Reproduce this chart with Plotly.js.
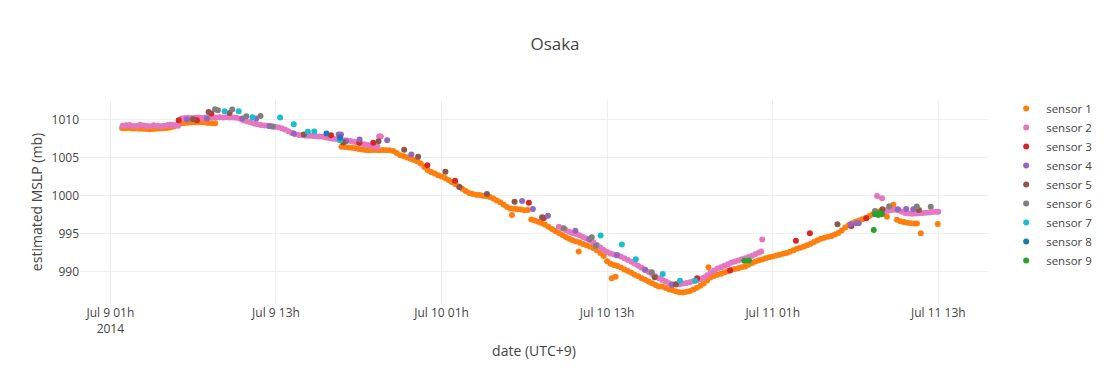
<!DOCTYPE html>
<html>
<head>
<meta charset="utf-8">
<script src="https://cdn.plot.ly/plotly-3.0.1.min.js"></script>
<style>html,body{margin:0;padding:0;background:#fff;}#chart{width:1110px;height:384px;}</style>
</head>
<body>
<div id="chart"></div>
<script>
// Times are hours after 2014-07-09 01:00 (UTC+9); values are estimated MSLP in mb.
const BASE_TIME = Date.UTC(2014, 6, 9, 1, 0, 0);

const sensorNames = ['sensor 1','sensor 2','sensor 3','sensor 4','sensor 5','sensor 6','sensor 7','sensor 8','sensor 9'];
const sensorColors = ['#ff7f0e','#e377c2','#d62728','#9467bd','#8c564b','#7f7f7f','#17becf','#1f77b4','#2ca02c'];

// sensor 1
const s1a_h = [0.85,1.1,1.35,1.6,1.85,2.1,2.35,2.6,2.85,3.1,3.35,3.6,3.85,4.1,4.35,4.6,4.85,5.1,5.35,5.6,5.85,6.1,6.35,6.6,6.85,7.1,7.35,7.6];
const s1a_v = [1008.90,1008.88,1008.92,1008.85,1008.84,1008.82,1008.80,1008.78,1008.75,1008.78,1008.80,1008.83,1008.86,1008.90,1008.96,1009.10,1009.35,1009.50,1009.56,1009.60,1009.62,1009.66,1009.68,1009.66,1009.62,1009.58,1009.55,1009.52];
const s1b_h = [16.75,17,17.25,17.5,17.75,18,18.25,18.5,18.75,19,19.25,19.5,19.75,20,20.25,20.5,20.75,21,21.25,21.5,21.75,22,22.25,22.5,22.75,23,23.25,23.5,23.75,24,24.25,24.5,24.75,25,25.25,25.5,25.75,26,26.25,26.5,26.75,27,27.25,27.5,27.75,28,28.25,28.5,28.75,29,29.25,29.5,29.75,30,30.25,30.5,30.75,31,31.25,31.5,31.75,32,32.25,32.5,32.75,33,33.25,33.5,33.75,34,34.25,34.5,34.75,35,35.25,35.5,35.75,36,36.25,36.5,36.75,37,37.25,37.5,37.75,38,38.25,38.5,38.75,39,39.25,39.5,39.75,40,40.25,40.5,40.75,41,41.25,41.5,41.75,42,42.25,42.5,42.75,43,43.25,43.5,43.75,44,44.25,44.5,44.75,45,45.25,45.5,45.75,46,46.25,46.5,46.75,47,47.25,47.5,47.75,48,48.25,48.5,48.75,49,49.25,49.5,49.75,50,50.25,50.5,50.75,51,51.25,51.5,51.75,52,52.25,52.5,52.75,53,53.25,53.5,53.75,54,54.25,54.5,54.75,55,55.25,55.5,55.75,56,56.25,56.5,56.75];
const s1b_v = [1006.43,1006.40,1006.35,1006.32,1006.25,1006.15,1006.08,1006.02,1005.99,1006.00,1006.02,1005.98,1006.00,1005.97,1005.98,1005.88,1005.62,1005.33,1005.18,1005.02,1004.86,1004.70,1004.50,1004.22,1003.75,1003.35,1003.10,1002.90,1002.68,1002.50,1002.30,1002.06,1001.80,1001.52,1001.20,1000.90,1000.60,1000.33,1000.20,1000.10,1000.06,999.98,999.90,999.82,999.60,999.35,999.12,998.80,998.50,998.30,998.25,998.20,998.16,998.05,998.10,996.85,996.72,996.53,996.38,996.15,995.90,995.58,995.32,995.06,994.80,994.55,994.30,994.10,993.95,993.80,993.62,993.45,993.28,993.10,992.78,992.42,992.04,991.35,991.00,990.85,990.70,990.50,990.25,990.05,989.82,989.55,989.35,989.10,988.90,988.68,988.45,988.20,988.00,988.00,987.80,987.62,987.50,987.35,987.26,987.22,987.30,987.42,987.60,987.85,988.10,988.40,988.80,989.22,989.40,989.55,989.68,989.85,990.05,990.20,990.32,990.42,990.55,990.66,990.88,991.10,991.32,991.47,991.58,991.72,991.85,991.95,992.08,992.20,992.32,992.44,992.60,992.80,992.98,993.12,993.28,993.45,993.65,993.88,994.10,994.30,994.45,994.58,994.68,994.85,995.05,995.40,995.78,996.10,996.35,996.56,996.72,996.88,997.05,997.30,997.55,997.80,997.92,997.98,998.05,998.50,998.80];
const s1c_h = [57,57.25,57.5,57.75,58,58.25,58.45,29.10,33.94,36.33,36.61,43.34,56.28,58.73,59.96];
const s1c_v = [996.80,996.62,996.50,996.40,996.36,996.33,996.32,997.43,992.61,989.11,989.28,990.55,997.20,995.03,996.25];

// sensor 2
const s2a_h = [0.9,1.15,1.4,1.65,1.9,2.15,2.4,2.65,2.9,3.15,3.4,3.65,3.9,4.15,4.4,4.65,4.9,5.15,5.4,5.65,5.9,6.15,6.4,6.65,6.9,7.15,7.4,7.65,7.9,8.15,8.4,8.65,8.9,9.15,9.4,9.65,9.9,10.15,10.4,10.65,10.9,11.15,11.4,11.65,11.9,12.15,12.4,12.65,12.9,13.15,13.4,13.65,13.9,14.15,14.4,14.65,14.9,15.15,15.4,15.65,15.9,16.15,16.4,16.65,16.9,17.15,17.4,17.65,17.9,18.15,18.4,18.65,18.9,19.15,19.35,19.48,19.6];
const s2a_v = [1009.22,1009.26,1009.30,1009.18,1009.16,1009.34,1009.24,1009.18,1009.14,1009.26,1009.22,1009.14,1009.20,1009.30,1009.34,1009.28,1009.22,1010.15,1010.22,1010.25,1010.22,1010.26,1010.28,1010.24,1010.28,1010.30,1010.32,1010.30,1010.33,1010.30,1010.34,1010.30,1010.28,1010.25,1010.12,1009.90,1009.78,1009.65,1009.50,1009.40,1009.30,1009.24,1009.20,1009.15,1009.08,1009.02,1008.88,1008.70,1008.48,1008.25,1008.08,1007.98,1007.95,1007.90,1007.88,1007.84,1007.82,1007.78,1007.74,1007.64,1007.56,1007.50,1007.42,1007.34,1007.28,1007.25,1007.20,1007.10,1007.00,1006.88,1006.78,1006.68,1006.58,1006.50,1006.42,1007.83,1007.80];
const s2b_h = [32.5,32.75,33,33.25,33.5,33.75,34,34.25,34.5,34.75,35,35.25,35.5,35.75,36,36.25,36.5,36.75,37,37.25,37.5,37.75,38,38.25,38.5,38.75,39,39.25,39.5,39.75,40,40.25,40.5,40.75,41,41.25,41.5,41.75,42,42.25,42.5,42.75,43,43.25,43.5,43.75,44,44.25,44.5,44.75,45,45.25,45.5,45.75,46,46.25,46.5,46.75,47,47.17,47.24];
const s2b_v = [995.88,995.66,995.45,995.24,995.05,994.92,994.76,994.55,994.33,994.12,993.85,993.50,993.15,992.83,992.55,992.35,992.22,992.14,991.95,991.72,991.50,991.27,991.02,990.75,990.48,990.22,989.92,989.64,989.36,989.10,988.88,988.67,988.45,988.32,988.28,988.30,988.40,988.48,988.58,988.70,988.82,988.98,989.20,989.48,989.86,990.12,990.38,990.56,990.74,990.95,991.16,991.30,991.45,991.60,991.74,991.90,992.06,992.28,992.48,992.63,994.21];
const s2c_h = [55.56,55.92,56.1,56.35,56.6,56.85,57.1,57.35,57.6,57.85,58.1,58.35,58.6,58.85,59.1,59.35,59.6,59.85,60.0];
const s2c_v = [999.93,999.63,997.88,997.98,998.10,998.12,998.05,997.85,997.70,997.62,997.60,997.62,997.66,997.70,997.72,997.78,997.84,997.86,997.85];

// sensor 3
const s3_h = [4.95,6.27,7.32,15.99,18.04,19.05,22.97,24.98,30.33,31.41,42.52,44.91,49.68,50.69,53.70,54.78];
const s3_v = [1009.93,1009.93,1010.82,1007.96,1006.95,1006.95,1004.01,1001.95,999.05,997.04,989.11,990.11,994.05,995.03,995.99,997.00];
// sensor 4
const s4_h = [5.55,7.0,9.56,10.57,11.53,13.29,16.54,16.71,17.08,18.06,20.06,21.81,29.84,30.62,31.71,33.70,34.71,36.71,38.75,40.69,53.65,54.06,54.23,57.07,57.67,58.18];
const s4_v = [1010.03,1010.16,1010.16,1010.16,1009.18,1008.18,1008.05,1008.05,1007.17,1007.39,1007.30,1005.42,999.28,998.22,997.33,995.36,994.24,992.14,990.20,988.22,996.21,996.34,996.34,998.18,998.22,998.18];
// sensor 5
const s5_h = [5.99,7.12,8.64,14.02,16.88,19.43,21.29,22.30,24.28,25.30,27.29,29.29,31.29,39.44,40.99,52.69,55.95,58.59];
const s5_v = [1010.07,1011.03,1010.89,1008.05,1007.00,1007.17,1006.05,1005.11,1003.13,1001.14,1000.20,999.18,997.14,989.24,988.29,996.21,998.18,998.09];
// sensor 6
const s6_h = [7.59,7.79,8.83,9.85,10.88,11.77,32.86,34.88,35.19,39.24,55.41,56.44,58.44,59.45];
const s6_v = [1011.38,1011.25,1011.36,1010.46,1010.50,1009.11,995.68,994.50,993.39,989.89,997.96,998.58,998.55,998.53];
// sensor 7
const s7_h = [8.28,9.30,10.30,12.30,13.29,14.31,14.78,16.64,35.53,37.07,38.08,40.03,41.28,42.38];
const s7_v = [1011.12,1011.12,1010.33,1010.29,1009.41,1008.42,1008.45,1007.30,994.74,993.55,991.61,989.64,988.75,988.75];
// sensor 8
const s8_h = [15.66,16.64];
const s8_v = [1008.18,1007.61];
// sensor 9
const s9_h = [45.94,46.28,55.32,55.41,55.65,55.77,55.92];
const s9_v = [991.41,991.45,995.46,997.53,997.43,997.70,997.53];

// axis ticks
const tickHours = [0,12,24,36,48,60];
const tickLabels = ['Jul 9 01h<br>2014','Jul 9 13h','Jul 10 01h','Jul 10 13h','Jul 11 01h','Jul 11 13h'];
const yTicks = [990,995,1000,1005,1010];
const xRangeHours = [-2.2, 63.6];
const yRange = [985.7, 1012.6];

const toTime = h => BASE_TIME + h * 3600000;

const series = [
  [s1a_h.concat(s1b_h, s1c_h), s1a_v.concat(s1b_v, s1c_v)],
  [s2a_h.concat(s2b_h, s2c_h), s2a_v.concat(s2b_v, s2c_v)],
  [s3_h, s3_v],[s4_h, s4_v],[s5_h, s5_v],[s6_h, s6_v],[s7_h, s7_v],[s8_h, s8_v],[s9_h, s9_v]
];

const traces = series.map((s, i) => ({
  type: 'scatter', mode: 'markers', name: sensorNames[i],
  x: s[0].map(toTime), y: s[1],
  marker: {color: sensorColors[i], size: 6}
}));

const layout = {
  width: 1110, height: 384,
  font: {family: '"Open Sans", verdana, arial, sans-serif', size: 12, color: '#444'},
  title: {text: 'Osaka'},
  margin: {l: 80, r: 120, t: 100, b: 80},
  paper_bgcolor: '#fff', plot_bgcolor: '#fff',
  legend: {y: 1.03, font: {size: 11.5}},
  xaxis: {
    type: 'date', title: {text: 'date (UTC+9)'},
    range: xRangeHours.map(toTime),
    tickmode: 'array', tickvals: tickHours.map(toTime), ticktext: tickLabels,
    showgrid: true, gridcolor: '#eee', zeroline: false, showline: false
  },
  yaxis: {
    title: {text: 'estimated MSLP (mb)'},
    range: yRange, tickmode: 'array', tickvals: yTicks,
    showgrid: true, gridcolor: '#eee', zeroline: false, showline: false
  },
  showlegend: true
};

Plotly.newPlot('chart', traces, layout, {displayModeBar: false, staticPlot: true});
</script>
</body>
</html>
